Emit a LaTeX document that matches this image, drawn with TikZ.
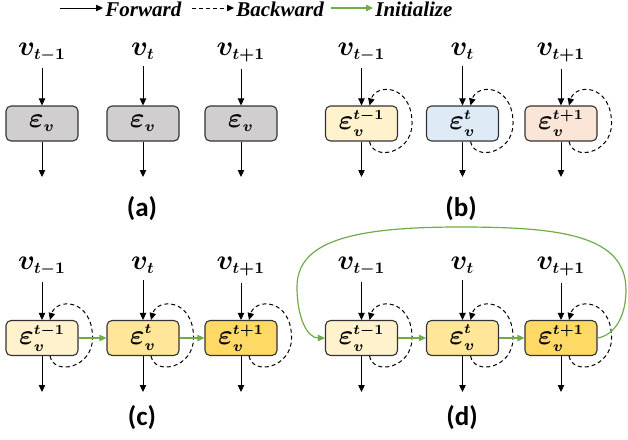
\RequirePackage{fix-cm}
\documentclass[tikz,border=0pt]{standalone}
\usepackage{fontspec}
\usepackage{amsmath}
\usepackage{bm}
\usetikzlibrary{calc,arrows.meta}

\newfontfamily\legendfont{Liberation Serif}
\newfontfamily\tagfont{Carlito}
\newcommand\scidx[2]{\mbox{\fontsize{#1}{#1}\selectfont$\medmuskip=0mu\bm{#2}$}}

\definecolor{cellgray}{HTML}{D0CECE}
\definecolor{cellyellow}{HTML}{FFF2CC}
\definecolor{cellblue}{HTML}{DEEBF7}
\definecolor{cellpeach}{HTML}{FBE5D6}
\definecolor{cellgold}{HTML}{FFE699}
\definecolor{celldeep}{HTML}{FFD966}
\definecolor{initgreen}{HTML}{70AD47}

\tikzset{
  cell/.style={draw=black!80, line width=0.55pt, rounded corners=2.5pt,
    minimum width=36pt, minimum height=17.5pt, inner sep=0pt,
    font=\fontsize{14}{16}\selectfont},
  inlabel/.style={anchor=base, inner sep=3.3pt, font=\fontsize{14}{16}\selectfont},
  tag/.style={font=\tagfont\bfseries\fontsize{13.5}{15}\selectfont},
  legtext/.style={anchor=base west, inner sep=1pt,
    font=\legendfont\bfseries\itshape\fontsize{10.5}{12}\selectfont},
  fwd/.style={line width=0.45pt, -{Triangle[length=3.5pt,width=3.2pt]}},
  bwd/.style={line width=0.5pt, dash pattern=on 2pt off 1.5pt,
    -{Triangle[length=3.5pt,width=3.2pt]}},
  init/.style={initgreen, line width=0.6pt, -{Triangle[length=3.5pt,width=3.2pt]}},
}

\begin{document}
\begin{tikzpicture}[x=0.5pt,y=-0.5pt]
\useasboundingbox (0,0) rectangle (628,440);

% legend
\coordinate (fwdS) at (60,8);
\node[legtext] (fwdT) at (103,16) {Forward};
\draw[fwd] (fwdS) -- (fwdS -| fwdT.west);
\coordinate (bwdS) at (192,8);
\node[legtext] (bwdT) at (234,16) {Backward};
\draw[bwd] (bwdS) -- (bwdS -| bwdT.west);
\coordinate (iniS) at (331,8);
\node[legtext] (iniT) at (373,16) {Initialize};
\draw[init] (iniS) -- (iniS -| iniT.west);

% (a)
\foreach \i/\x/\tm in {1/42/{t-1},2/143/{t},3/241/{t+1}}{
  \node[inlabel] (va\i) at (\x,55) {$\bm{v}_{\scidx{8}{\tm}}$};
  \node[cell, fill=cellgray] (ea\i) at (\x,123.5) {$\bm{\varepsilon}_{\scidx{7.5}{v}}$};
  \coordinate (oa\i) at (\x,177);
  \draw[fwd] (va\i) -- (ea\i);
  \draw[fwd] (ea\i) -- (oa\i);
}
\node[tag] (taga) at (142,209) {(a)};

% (b)
\foreach \i/\x/\tm/\col in {1/361.5/{t-1}/cellyellow,2/462.5/{t}/cellblue,3/561/{t+1}/cellpeach}{
  \node[inlabel] (vb\i) at (\x,55) {$\bm{v}_{\scidx{8}{\tm}}$};
  \node[cell, fill=\col] (eb\i) at (\x,123.5) {$\bm{\varepsilon}_{\scidx{7.5}{v}}^{\scidx{7}{\tm}}$};
  \coordinate (ob\i) at (\x,177);
  \draw[fwd] (vb\i) -- (eb\i);
  \draw[fwd] (eb\i) -- (ob\i);
  \draw[bwd] ($(eb\i.south)+(8,0)$) .. controls +(4,20) and +(0,30) .. ($(eb\i.east)+(14,0)$)
    .. controls +(0,-40) and +(6,-22) .. ($(eb\i.north)+(8,0)$);
}
\node[tag] (tagb) at (461,209) {(b)};

% (c)
\foreach \i/\x/\tm/\col in {1/42/{t-1}/cellyellow,2/143/{t}/cellgold,3/241/{t+1}/celldeep}{
  \node[inlabel] (vc\i) at (\x,269) {$\bm{v}_{\scidx{8}{\tm}}$};
  \node[cell, fill=\col] (ec\i) at (\x,338) {$\bm{\varepsilon}_{\scidx{7.5}{v}}^{\scidx{7}{\tm}}$};
  \coordinate (oc\i) at (\x,392);
  \draw[fwd] (vc\i) -- (ec\i);
  \draw[fwd] (ec\i) -- (oc\i);
  \draw[bwd] ($(ec\i.south)+(8,0)$) .. controls +(4,20) and +(0,30) .. ($(ec\i.east)+(14,0)$)
    .. controls +(0,-40) and +(6,-22) .. ($(ec\i.north)+(8,0)$);
}
\draw[init] (ec1) -- (ec2);
\draw[init] (ec2) -- (ec3);
\node[tag] (tagc) at (142,418) {(c)};

% (d)
\foreach \i/\x/\tm/\col in {1/361.5/{t-1}/cellyellow,2/462.5/{t}/cellgold,3/561/{t+1}/celldeep}{
  \node[inlabel] (vd\i) at (\x,269) {$\bm{v}_{\scidx{8}{\tm}}$};
  \node[cell, fill=\col] (ed\i) at (\x,338) {$\bm{\varepsilon}_{\scidx{7.5}{v}}^{\scidx{7}{\tm}}$};
  \coordinate (od\i) at (\x,392);
  \draw[fwd] (vd\i) -- (ed\i);
  \draw[fwd] (ed\i) -- (od\i);
  \draw[bwd] ($(ed\i.south)+(8,0)$) .. controls +(4,20) and +(0,30) .. ($(ed\i.east)+(14,0)$)
    .. controls +(0,-40) and +(6,-22) .. ($(ed\i.north)+(8,0)$);
}
\draw[init] (ed1) -- (ed2);
\draw[init] (ed2) -- (ed3);
\draw[init] (ed3.east) .. controls +(18,-3) and +(0,25) .. (626,290)
  .. controls +(0,-55) and +(100,0) .. (460,227)
  .. controls +(-110,0) and +(0,-45) .. (297,287)
  .. controls +(0,30) and +(-18,0) .. (ed1.west);
\node[tag] (tagd) at (462,418) {(d)};
\end{tikzpicture}
\end{document}
